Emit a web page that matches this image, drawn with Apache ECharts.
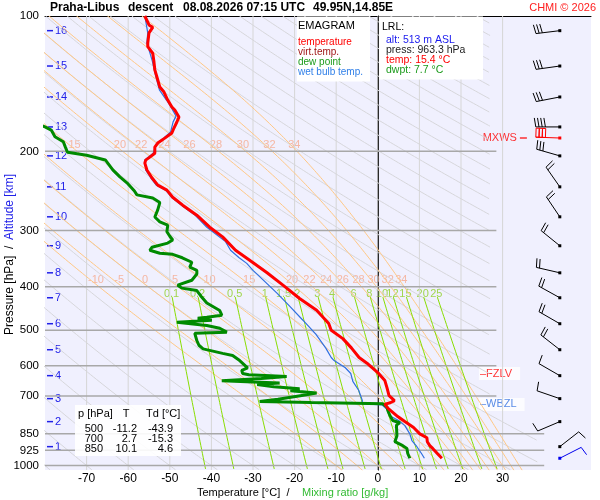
<!DOCTYPE html>
<html>
<head>
<meta charset="utf-8">
<title>Praha-Libus emagram</title>
<script src="https://cdn.jsdelivr.net/npm/echarts@6.0.0/dist/echarts.min.js"></script>
<style>
  html, body { margin: 0; padding: 0; background: #fff; }
  #chart { width: 600px; height: 500px; }
</style>
</head>
<body>
<div id="chart"></div>
<script>
// sounding (hPa / °C)
const tempP = [100,104.7,106,109,114.8,117,121,126.6,131.8,136.7,143.9,147.6,153.8,159.4,161.9,167.8,172.1,177.5,182,186.9,191.7,195.7,202,206,209.2,212.5,220,229,237.8,244,253,263.5,277.4,295,310,332,349.4,372,397,425,451.6,483,500,522,548,575,592,624,647,671,699,717,725,730,745,778,798,823,850,867,885,903,916,940,963.3];
const tempT = [-56.0,-55.0,-54.1,-55.0,-55.3,-55.3,-54.1,-53.8,-53.6,-53.1,-52.4,-51.4,-50.5,-49.5,-48.8,-47.8,-48.3,-49.0,-49.5,-51.2,-52.9,-53.6,-53.6,-54.8,-55.8,-56.0,-55.5,-54.3,-52.9,-50.7,-49.3,-46.9,-43.5,-40.4,-37.3,-34.2,-30.8,-26.7,-22.8,-18.8,-14.7,-11.8,-11.2,-8.4,-6.3,-4.5,-2.6,0.2,1.7,2.2,2.7,4.0,3.0,1.7,2.4,4.8,6.5,8.6,10.1,11.8,11.9,12.5,13.2,14.3,15.4];

const wbP = [100,109,114.8,126,131,137,146,153.8,159,167,172,181,187,192,202,209,220,229,238,244,253,263.5,277,295,317.6,332,344.6,355,368,380,413,442,475,510,548,575,584,606,624,650,680,717,728,733,750,778,794,815,850,880,908,940,963.3];
const wbT = [-56.0,-55.3,-55.5,-54.2,-53.8,-53.3,-52.5,-50.8,-49.8,-48.5,-49.2,-49.8,-51.5,-53.2,-54.0,-56.0,-55.8,-54.6,-53.2,-51.0,-49.6,-47.2,-44.0,-41.1,-36.6,-35.4,-33.4,-31.5,-30.0,-28.4,-24.3,-21.2,-18.0,-14.9,-12.5,-11.2,-10.5,-7.8,-6.5,-6.0,-4.6,-3.7,-3.8,1.0,2.2,3.2,5.0,6.5,7.7,8.2,9.4,10.5,11.2];

const dewP = [172,176.5,179.4,185.6,190.4,195.7,201,204,209,220,228,235,245,250,254,260,270,280,287,292,302,309,315,320,327,332,337,339,345,353,362,368,375,387,397,403,408,420,435,452,463,468,470,475,480,488,495,505,508,527,540,550,563,569,584,606,614,624,628,634,640,648,652,655,660,668,675,682,690,700,712,720,724,729,741,754,774,794,803,812,823,858,885,903,916,940,963.3];
const dewT = [-83,-80,-78.5,-77.6,-75.6,-75.1,-74.6,-70,-65.5,-63.7,-62,-60.3,-58.5,-57.9,-54.1,-52.4,-52.9,-53.6,-52.4,-50.5,-50.7,-50,-49.3,-50.5,-54.3,-54.8,-52.4,-49.3,-47,-44.7,-45.2,-43.5,-43.5,-44.7,-48.1,-47.1,-43.5,-42.5,-41.1,-38,-37.5,-41.1,-43.3,-39.9,-48.3,-41.1,-38,-36.3,-44,-43.5,-43,-42,-37.3,-34.9,-33.2,-31.3,-32.7,-32.5,-31,-21.9,-28,-37.5,-30,-23.6,-29,-25,-18.8,-21,-14.7,-19,-24,-28.4,-16,1.2,2.2,2.4,2.9,3.6,5.3,4.5,4.5,4.6,4.1,6.0,7.0,7.2,7.7];

// altitude marks (km) and the wind at them
const kmLevels = [16,15,14,13,12,11,10,9,8,7,6,5,4,3,2,1];
const kmPress  = [107.8,129.2,151.4,176.5,204.7,239.9,279.7,324.4,372.6,423.4,483.6,552.5,631,709.8,798.5,907.7];
const windDir  = [263,262,259,270,286,325,326,309,283,299,300,308,300,289,247,52];
const windSpd  = [30,30,30,40,30,20,20,20,20,20,20,20,10,10,10,10];
const mxwsP = 186.8, mxwsDir = 272, mxwsSpd = 30;
const sfcP = 963.3, sfcDir = 63, sfcSpd = 10;
const fzlvP = 624, wbzlP = 731;

// diagram lines
const pressLabels = [100,200,300,400,500,600,700,850,925,1000];
const isobars   = [200,300,400,500,600,700,850,925,1000];
const isotherms = [-70,-60,-50,-40,-30,-20,-10,0,10,20,30];
const dryTheta  = [-80,-70,-60,-50,-40,-30,-20,-10,0,10,20,30,40,50,60,70,80,90,100,110,120,130,140,150,160,170,180,190,200,210,220,230,240,250,260,270,280,290,300,310];
const moistThetaW = [-10,-5,0,5,10,15,20,22,24,26,28,30,32,34];
const moistLabelLevels = [400,200];
const mixRatios = [0.1,0.2,0.5,1,1.5,2,3,4,6,8,10,12,15,20,25];

// table + station
const tableP = [500,700,850], tableT = [-11.2,2.7,10.1], tableTd = [-43.9,-15.3,4.6];
const lrlAlt = 513, lrlPress = 963.3, lrlTemp = 15.4, lrlDwpt = 7.7;

const FONT = '"Liberation Sans", Arial, sans-serif';
const P_TOP = 100, P_BOT = 1023, T_MIN = -80, T_MAX = 51.25;
const STATION_T = 43.75;

// right end of the diagram lines
function tRight(p) {
  if (p <= 700) return 28.5;
  if (p >= 850) return 40;
  return 28.5 + (p - 700) / 150 * 11.5;
}

function logSteps(p0, p1, f) {
  const out = [];
  for (let lp = Math.log(p0); lp <= Math.log(p1) + 1e-9; lp += f) out.push(Math.exp(lp));
  return out;
}

function clip(pts, cut) {
  return pts.filter(d => d[0] <= tRight(d[1]) - (cut || 0));
}

function dryLine(th) {
  return clip(logSteps(P_TOP, P_BOT, 0.004).map(p => [(th + 273.15) * Math.pow(p / 1000, 0.2857) - 273.15, p]), 1.5);
}

function dTdlnp(T, p) {
  const es = 6.112 * Math.exp(17.67 * (T - 273.15) / (T - 29.65));
  const rs = 0.622 * es / (p - es);
  return (287.04 * T + 2.501e6 * rs) / (1005.7 + 2.501e6 * 2.501e6 * rs * 0.622 / (287.04 * T * T));
}

function moistLine(thw) {
  const h = 0.004;
  function run(dir, stopP) {
    let x = Math.log(1000), T = thw + 273.15;
    const pts = [[T - 273.15, 1000]];
    while (dir < 0 ? Math.exp(x) > stopP : Math.exp(x) < stopP) {
      const s = dir * h;
      const k1 = dTdlnp(T, Math.exp(x));
      const k2 = dTdlnp(T + s * k1 / 2, Math.exp(x + s / 2));
      const k3 = dTdlnp(T + s * k2 / 2, Math.exp(x + s / 2));
      const k4 = dTdlnp(T + s * k3, Math.exp(x + s));
      T += s * (k1 + 2 * k2 + 2 * k3 + k4) / 6;
      x += s;
      pts.push([T - 273.15, Math.exp(x)]);
    }
    return pts;
  }
  const up = run(-1, P_TOP).reverse();
  const down = run(1, P_BOT).slice(1);
  return up.concat(down);
}

function tdFromMix(r, p) {
  const e = r * p / (622 + r);
  const l = Math.log(e / 6.112);
  return 243.5 * l / (17.67 - l);
}

function tAt(line, p) {
  let best = line[0];
  line.forEach(d => { if (Math.abs(Math.log(d[1] / p)) < Math.abs(Math.log(best[1] / p))) best = d; });
  return best[0];
}

function lineS(data, color, width) {
  return { type: 'line', data, symbol: 'none', silent: true, animation: false,
    lineStyle: { color, width }, clip: true };
}

const series = [];

isotherms.forEach(t => series.push(lineS([[t, P_TOP], [t, P_BOT]], t === 0 ? '#8c8c8c' : '#d6d6d6', 1)));
dryTheta.forEach(th => series.push(lineS(dryLine(th), '#d6d6da', 1)));

const moistLabels = [];
moistThetaW.forEach(thw => {
  const full = moistLine(thw);
  series.push(lineS(clip(full), '#ffc784', 1));
  moistLabelLevels.forEach(p => {
    const t = tAt(full, p);
    if (t > T_MIN + 1 && t < tRight(p)) moistLabels.push({ name: String(thw), value: [t, p] });
  });
});

const mixLabels = [];
mixRatios.forEach(r => {
  const pts = clip(logSteps(422, P_BOT, 0.01).map(p => [tdFromMix(r, p), p]));
  series.push(lineS(pts, '#88dd00', 1));
  mixLabels.push({ name: String(r), value: [tdFromMix(r, 415), 415] });
});

isobars.forEach(p => series.push(lineS([[T_MIN, p], [tRight(p), p]], '#a8a8a8', 1.5)));

series.push({ type: 'scatter', symbolSize: 0, silent: true, clip: false, data: moistLabels,
  label: { show: true, position: 'top', distance: 1, offset: [-3, 0], formatter: '{b}', color: '#f6a98c', fontSize: 11, fontFamily: FONT } });
series.push({ type: 'scatter', symbolSize: 0, silent: true, clip: false, data: mixLabels,
  label: { show: true, position: 'inside', formatter: '{b}', color: '#8cd020', fontSize: 11, fontFamily: FONT } });

// profiles
series.push(lineS(wbP.map((p, i) => [wbT[i], p]), '#2f6fe0', 1.2));
series.push(lineS(dewP.map((p, i) => [dewT[i], p]), '#008a00', 3));
series.push(lineS(tempP.map((p, i) => [tempT[i], p]), '#ff0000', 3));

// pressure labels left of the axis
series.push({ type: 'custom', silent: true, clip: false,
  data: pressLabels.map(p => [T_MIN, p]),
  renderItem: (params, api) => {
    const c = api.coord([api.value(0), api.value(1)]);
    return { type: 'text', x: c[0] - 6, y: c[1],
      style: { text: String(api.value(1)), fill: '#000', font: '11.5px ' + FONT,
        align: 'right', verticalAlign: 'middle', textAlign: 'right', textVerticalAlign: 'middle' } };
  } });

// altitude km marks
series.push({ type: 'custom', silent: true, clip: false,
  data: kmPress.map((p, i) => [T_MIN, p, kmLevels[i]]),
  renderItem: (params, api) => {
    const c = api.coord([api.value(0), api.value(1)]);
    return { type: 'group', children: [
      { type: 'line', shape: { x1: c[0] + 2, y1: c[1], x2: c[0] + 8, y2: c[1] }, style: { stroke: '#2020e8', lineWidth: 1.5 } },
      { type: 'text', x: c[0] + 10, y: c[1],
        style: { text: String(api.value(2)), fill: '#2020e8', font: '11px ' + FONT,
          align: 'left', verticalAlign: 'middle', textAlign: 'left', textVerticalAlign: 'middle' } }
    ] };
  } });

// wind barbs
function barbSeries(data, color, boxes) {
  return { type: 'custom', silent: true, clip: false, data,
    renderItem: (params, api) => {
      const c = api.coord([api.value(0), api.value(1)]);
      const a = api.value(2) * Math.PI / 180;
      const sx = Math.sin(a), sy = -Math.cos(a);
      const px = -sy, py = sx;
      const L = 24, F = 9, gap = 3.2;
      const tip = [c[0] + sx * L, c[1] + sy * L];
      const kids = [{ type: 'line', shape: { x1: c[0], y1: c[1], x2: tip[0], y2: tip[1] }, style: { stroke: color, lineWidth: 1 } }];
      const spd = api.value(3);
      const n = Math.floor(spd / 10), half = spd % 10 >= 5;
      for (let i = 0; i < n; i++) {
        const bx = tip[0] - sx * gap * i, by = tip[1] - sy * gap * i;
        if (boxes) {
          kids.push({ type: 'polygon', shape: { points: [[bx, by], [bx + px * F, by + py * F],
            [bx + px * F - sx * gap, by + py * F - sy * gap], [bx - sx * gap, by - sy * gap]] },
            style: { fill: 'none', stroke: color, lineWidth: 1 } });
        } else {
          kids.push({ type: 'line', shape: { x1: bx, y1: by, x2: bx + px * F + sx * 1.5, y2: by + py * F + sy * 1.5 },
            style: { stroke: color, lineWidth: 1 } });
        }
      }
      if (half) {
        const bx = tip[0] - sx * gap * n, by = tip[1] - sy * gap * n;
        kids.push({ type: 'line', shape: { x1: bx, y1: by, x2: bx + px * F / 2, y2: by + py * F / 2 }, style: { stroke: color, lineWidth: 1 } });
      }
      kids.push({ type: 'rect', shape: { x: c[0] - 1.5, y: c[1] - 1.5, width: 3, height: 3 }, style: { fill: color } });
      return { type: 'group', children: kids };
    } };
}
series.push(barbSeries(kmPress.map((p, i) => [STATION_T, p, windDir[i], windSpd[i]]), '#000', false));
series.push(barbSeries([[STATION_T, mxwsP, mxwsDir, mxwsSpd]], '#ff0000', true));
series.push(barbSeries([[STATION_T, sfcP, sfcDir, sfcSpd]], '#0000ee', false));

// level markers
series.push({ type: 'scatter', silent: true, clip: false, symbol: 'rect', symbolSize: [7, 1.5],
  itemStyle: { color: '#ff0000' }, data: [[35, mxwsP]],
  label: { show: true, position: 'left', distance: 3, formatter: 'MXWS', color: '#ff0000', fontSize: 11, fontFamily: FONT } });
series.push({ type: 'scatter', silent: true, clip: false, symbolSize: 0,
  data: [{ value: [24.3, fzlvP], name: '\u2013FZLV', c: '#ff0000' }, { value: [24.3, wbzlP], name: '\u2013WBZL', c: '#2f6fe0' }].map(d => ({
    value: d.value, name: d.name,
    label: { color: d.c } })),
  label: { show: true, position: 'right', distance: 0, formatter: '{b}', fontSize: 11, fontFamily: FONT,
    backgroundColor: '#ffffff', padding: [1, 8, 1, 1] } });

function txt(x, y, text, color, font, align, extra) {
  return Object.assign({ type: 'text', x, y, z: 101, silent: true,
    style: { text, fill: color, font: font + ' ' + FONT, align: align || 'left', verticalAlign: 'middle',
      textAlign: align || 'left', textVerticalAlign: 'middle' } }, extra || {});
}

const graphic = [
  txt(50, 8, 'Praha-Libus', '#000', 'bold 12px'),
  txt(128, 8, 'descent', '#000', 'bold 12px'),
  txt(183, 8, '08.08.2026 07:15 UTC', '#000', 'bold 12px'),
  txt(313, 8, '49.95N,14.85E', '#000', 'bold 12px'),
  txt(596, 8, 'CHMI \u00a9 2026', '#ff2020', '11px', 'right'),

  { type: 'rect', z: 100, silent: true, shape: { x: 297, y: 16.5, width: 73, height: 65 }, style: { fill: '#ffffff' } },
  txt(298, 26, 'EMAGRAM', '#000', '11px'),
  txt(298, 42, 'temperature', '#ff0000', '10px'),
  txt(298, 52, 'virt.temp.', '#a01818', '10px'),
  txt(298, 62, 'dew point', '#1a9a1a', '10px'),
  txt(298, 72, 'wet bulb temp.', '#2f7fe8', '10px'),

  { type: 'rect', z: 100, silent: true, shape: { x: 379, y: 16.5, width: 104, height: 63 }, style: { fill: '#ffffff' } },
  txt(382, 27, 'LRL:', '#000', '10.5px'),
  txt(386, 40, 'alt: ' + lrlAlt + ' m ASL', '#1a1aee', '10.5px'),
  txt(386, 50, 'press: ' + lrlPress.toFixed(1) + ' hPa', '#222', '10.5px'),
  txt(386, 60, 'temp: ' + lrlTemp.toFixed(1) + ' \u00b0C', '#ff0000', '10.5px'),
  txt(386, 70, 'dwpt: ' + lrlDwpt.toFixed(1) + ' \u00b0C', '#1a9a1a', '10.5px'),

  { type: 'rect', z: 100, silent: true, shape: { x: 75, y: 405, width: 106, height: 51 }, style: { fill: 'rgba(255,255,255,0.9)' } },
  txt(78, 414, 'p [hPa]', '#000', '11px'),
  txt(126, 414, 'T', '#000', '11px', 'center'),
  txt(146, 414, 'Td [\u00b0C]', '#000', '11px'),

  txt(197, 493, 'Temperature [\u00b0C]  /', '#000', '11px'),
  txt(302, 493, 'Mixing ratio [g/kg]', '#33bb33', '11px'),
  txt(10, 335, 'Pressure [hPa]  /', '#000', '12px', 'left', { rotation: Math.PI / 2 }),
  txt(10, 240, 'Altitude [km]', '#2020e8', '12px', 'left', { rotation: Math.PI / 2 })
];
tableP.forEach((p, i) => {
  const y = 429 + i * 10;
  graphic.push(txt(103, y, String(p), '#000', '11px', 'right'));
  graphic.push(txt(137, y, tableT[i].toFixed(1), '#000', '11px', 'right'));
  graphic.push(txt(173, y, tableTd[i].toFixed(1), '#000', '11px', 'right'));
});

const chart = echarts.init(document.getElementById('chart'));
chart.setOption({
  animation: false,
  backgroundColor: '#ffffff',
  grid: { left: 45, right: 9, top: 16, bottom: 30, show: true, backgroundColor: '#f0f0fe', borderWidth: 0 },
  xAxis: [
    { type: 'value', min: T_MIN, max: T_MAX, interval: 10,
      axisLine: { show: false }, axisTick: { show: false }, splitLine: { show: false },
      axisLabel: { color: '#000', fontSize: 12, fontFamily: FONT, margin: 3,
        formatter: v => (v >= -70 && v <= 30) ? String(v) : '' } },
    { type: 'value', position: 'top', min: T_MIN, max: T_MAX,
      axisLine: { show: true, lineStyle: { color: '#000', width: 1 } },
      axisTick: { show: false }, axisLabel: { show: false }, splitLine: { show: false } }
  ],
  yAxis: { type: 'log', logBase: 10, min: P_TOP, max: P_BOT, inverse: true,
    axisLine: { show: true, lineStyle: { color: '#000', width: 1 } },
    axisTick: { show: false }, axisLabel: { show: false }, splitLine: { show: false } },
  series,
  graphic
});
</script>
</body>
</html>
